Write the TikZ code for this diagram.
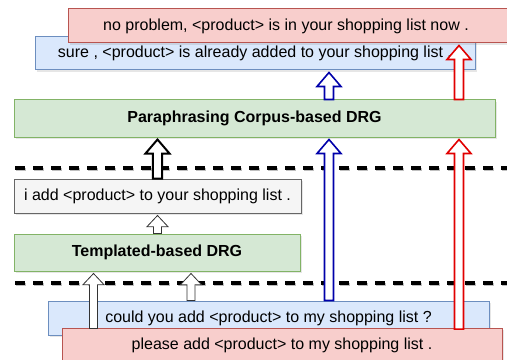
\documentclass[tikz,border=0pt]{standalone}
\usepackage{fontspec}
\setmainfont{Liberation Sans}
\usetikzlibrary{calc,shadows}
\definecolor{redfill}{HTML}{F8CECC}
\definecolor{redline}{HTML}{B85450}
\definecolor{bluefill}{HTML}{DAE8FC}
\definecolor{blueline}{HTML}{6C8EBF}
\definecolor{greenfill}{HTML}{D5E8D4}
\definecolor{greenline}{HTML}{82B366}
\definecolor{grayfill}{HTML}{F5F5F5}
\definecolor{grayline}{HTML}{666666}
\definecolor{arrblue}{RGB}{0,0,170}
\definecolor{arrred}{RGB}{225,0,0}
\definecolor{thinline}{HTML}{333333}
\tikzset{
  box/.style={draw=#1line, fill=#1fill, line width=0.75pt, inner sep=0pt,
    font=\fontsize{12}{14}\selectfont,
    drop shadow={shadow xshift=1.2pt, shadow yshift=-1.2pt, opacity=0.2}},
  sep/.style={line width=2.3pt, dash pattern=on 7.5pt off 6pt},
  blockarrow/.style n args={4}{fill=white, line join=miter, draw=#4,
    to path={let \p1=(\tikztostart), \p2=(\tikztotarget) in
      (\x1-#1,\y1) -- (\x1-#1,\y2-1.5pt-#3) -- (\x1-#2,\y2-1.5pt-#3) -- (\x1,\y2-1.5pt)
      -- (\x1+#2,\y2-1.5pt-#3) -- (\x1+#1,\y2-1.5pt-#3) -- (\x1+#1,\y1) -- cycle}},
  bigarrow/.style={blockarrow={3.4pt}{9pt}{10.5pt}{#1}, line width=1.2pt},
  boldarrow/.style={blockarrow={3.4pt}{9pt}{10.5pt}{black}, line width=1.5pt},
  smallarrow/.style={blockarrow={3pt}{8pt}{8.5pt}{thinline}, line width=0.6pt},
}
\begin{document}
\begin{tikzpicture}[x=0.75pt,y=-0.75pt]
\useasboundingbox (0,0) rectangle (507,360);
% column coordinates
\coordinate (cA) at (157.5,0);
\coordinate (cC) at (93.5,0);
\coordinate (cD) at (191,0);
\coordinate (cE) at (329,0);
\coordinate (cG) at (459,0);
% boxes
\node[box=blue, minimum width=330pt, minimum height=24.75pt] (sure) at (255,53.5)
  {sure , <product> is already added to your shopping list .};
\node[box=red, minimum width=331.5pt, minimum height=25.5pt] (top) at (289,26)
  {\hspace*{-4.5pt}no problem, <product> is in your shopping list now .};
\node[box=green, minimum width=360.75pt, minimum height=27.75pt] (para) at (254.5,118.5)
  {\bfseries Paraphrasing Corpus-based DRG};
\node[box=gray, minimum width=215.25pt, minimum height=25.5pt] (iadd) at (157.5,196)
  {i add <product> to your shopping list .};
\node[box=green, minimum width=214.5pt, minimum height=27.75pt] (templ) at (157,252.5)
  {\bfseries Templated-based DRG};
\node[box=blue, minimum width=330.75pt, minimum height=25.5pt] (could) at (268.5,318)
  {could you add <product> to my shopping list ?};
\node[box=red, minimum width=330pt, minimum height=25.5pt] (please) at (282,345)
  {please add <product> to my shopping list .};
% separators
\coordinate (s1a) at (15,168);
\coordinate (s1b) at (512,168);
\coordinate (s2a) at (15,283);
\coordinate (s2b) at (512,283);
\draw[sep, black!25, transform canvas={yshift=-1.2pt, xshift=1pt}] (s1a) -- (s1b);
\draw[sep, black!25, transform canvas={yshift=-1.2pt, xshift=1pt}] (s2a) -- (s2b);
\draw[sep] (s1a) -- (s1b);
\draw[sep] (s2a) -- (s2b);
% arrows
\draw[smallarrow] (templ.north -| cA) to (iadd.south -| cA);
\draw[boldarrow] (iadd.north -| cA) to (para.south -| cA);
\draw[smallarrow] (could.north -| cD) to (templ.south -| cD);
\draw[smallarrow] ([yshift=-0.8pt]please.north -| cC) to (templ.south -| cC);
\draw[bigarrow=arrblue] (could.north -| cE) to (para.south -| cE);
\draw[bigarrow=arrblue] (para.north -| cE) to (sure.south -| cE);
\draw[bigarrow=arrred] ([yshift=-1.2pt]please.north -| cG) to (para.south -| cG);
\draw[bigarrow=arrred] (para.north -| cG) to (top.south -| cG);
\end{tikzpicture}
\end{document}
